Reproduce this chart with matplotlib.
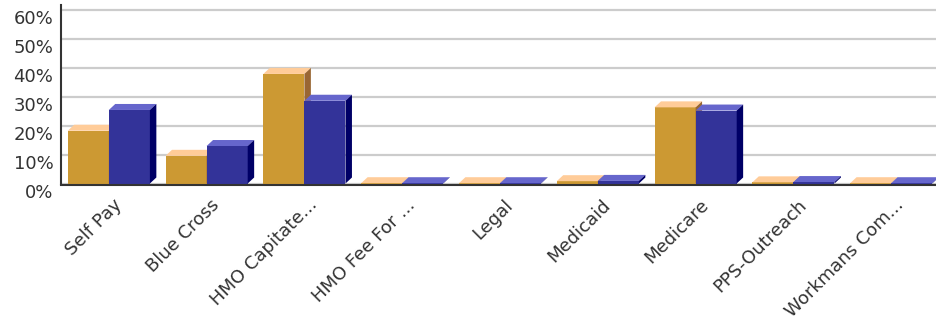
import numpy as np
import matplotlib.pyplot as plt
from matplotlib.patches import Polygon
from matplotlib.transforms import ScaledTranslation

# payer mix, percent of total (two periods)
categories = ['Self Pay', 'Blue Cross', 'HMO Capitate...', 'HMO Fee For ...', 'Legal',
              'Medicaid', 'Medicare', 'PPS-Outreach', 'Workmans Com...']
series_gold = [18.3, 9.6, 38.0, 0.1, 0.1, 0.8, 26.4, 0.4, 0.1]
series_blue = [25.5, 13.0, 28.7, 0.1, 0.1, 0.9, 25.3, 0.5, 0.1]
yticks = [0, 10, 20, 30, 40, 50, 60]
ytick_labels = ['0%', '10%', '20%', '30%', '40%', '50%', '60%']

# face colours: front, top, side
gold = ('#CC9933', '#FFCC99', '#996633')
blue = ('#333399', '#6666CC', '#000066')

bar_w = 0.42
depth_x = 0.066   # in category units
depth_y = 2.08    # in percent units

fig = plt.figure(figsize=(9.36, 3.25), dpi=100)
ax = fig.add_axes([61 / 936, 1 - 183.5 / 325, 875 / 936, 178.5 / 325])

x = np.arange(len(categories))


def bars3d(xpos, vals, cols):
    rects = ax.bar(xpos, vals, width=bar_w, color=cols[0], linewidth=0, zorder=3)
    for r in rects:
        l = r.get_x()
        rr = l + r.get_width()
        v = r.get_height()
        top = Polygon([(l, v), (l + depth_x, v + depth_y), (rr + depth_x, v + depth_y), (rr, v)],
                      closed=True, facecolor=cols[1], edgecolor='none', zorder=3)
        side = Polygon([(rr, 0), (rr + depth_x, depth_y), (rr + depth_x, v + depth_y), (rr, v)],
                       closed=True, facecolor=cols[2], edgecolor='none', zorder=3)
        ax.add_patch(top)
        ax.add_patch(side)


for i in range(len(categories)):
    bars3d([x[i] - bar_w / 2], [series_gold[i]], gold)
    bars3d([x[i] + bar_w / 2], [series_blue[i]], blue)

ax.set_xlim(-0.489, 8.458)
ax.set_ylim(0, 61.9)

# spines first: moving a spine resets the ticks
for s in ['top', 'right']:
    ax.spines[s].set_visible(False)
ax.spines['bottom'].set_position(('outward', 1))
for s in ['left', 'bottom']:
    ax.spines[s].set_color('#333333')
    ax.spines[s].set_linewidth(1.5)
    ax.spines[s].set_zorder(5)

ax.tick_params(axis='y', length=0, pad=5.5)
ax.tick_params(axis='x', length=0, pad=12.5)

ax.set_yticks(yticks)
ax.set_yticklabels(ytick_labels, fontsize=13, color='#333333')
ax.yaxis.grid(True, color='#CCCCCC', linewidth=1.6, zorder=0)
ax.set_axisbelow(True)
for lab in ax.get_yticklabels():
    lab.set_transform(lab.get_transform() + ScaledTranslation(0, -7 / 100, fig.dpi_scale_trans))

ax.set_xticks(x)
ax.set_xticklabels(categories, fontsize=13, color='#333333')
for lab in ax.get_xticklabels():
    lab.set_rotation(45)
    lab.set_rotation_mode('anchor')
    lab.set_ha('right')
    lab.set_va('center')
    lab.set_transform(lab.get_transform() + ScaledTranslation(10 / 100, 0, fig.dpi_scale_trans))

fig.savefig('out.png', dpi=100)
